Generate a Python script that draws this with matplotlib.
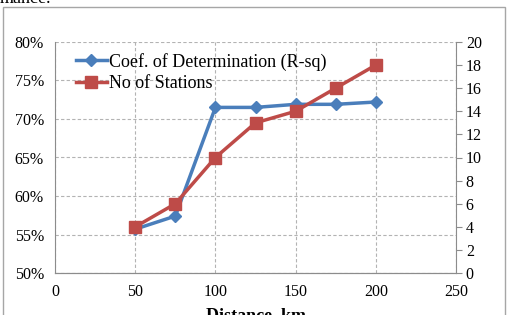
import matplotlib.pyplot as plt
from matplotlib.patches import Rectangle

plt.rcParams['font.family'] = ['Liberation Serif', 'DejaVu Serif']

# data
distance = [50, 75, 100, 125, 150, 175, 200]
r_sq = [0.557, 0.574, 0.715, 0.715, 0.719, 0.719, 0.722]
stations = [4, 6, 10, 13, 14, 16, 18]

blue = '#4a7ebb'
red = '#be4b48'
grid_col = '#b3b3b3'

fig = plt.figure(figsize=(5.09, 3.15), dpi=100)
ax = fig.add_axes([0.108, 0.133, 0.788, 0.734])
ax2 = ax.twinx()

# outer chart border and clipped caption text from the page
fig.patches.append(Rectangle((0.006, -0.1), 0.986, 1.078, transform=fig.transFigure,
                             fill=False, edgecolor='#a6a6a6', lw=1.0))
fig.text(0.0, 1.005, 'mance.', fontsize=13, va='center', ha='left')

l1, = ax.plot(distance, r_sq, color=blue, lw=2.5, marker='D', ms=6.5,
              label='Coef. of Determination (R-sq)')
l2, = ax2.plot(distance, stations, color=red, lw=2.5, marker='s', ms=8,
               label='No of Stations')

ax.set_xlim(0, 250)
ax.set_ylim(0.5, 0.8)
ax2.set_ylim(0, 20)
ax.set_xticks(range(0, 251, 50))
ax.set_yticks([0.5, 0.55, 0.6, 0.65, 0.7, 0.75, 0.8])
ax.set_yticklabels(['50%', '55%', '60%', '65%', '70%', '75%', '80%'])
ax2.set_yticks(range(0, 21, 2))

ax.grid(True, color=grid_col, ls=(0, (3, 2)), lw=0.8)
ax.spines['top'].set_visible(False)
ax2.spines['top'].set_visible(False)
ax.spines['right'].set_visible(False)
for a in (ax, ax2):
    for s in a.spines.values():
        s.set_color('#8c8c8c')
ax2.spines['left'].set_visible(False)
ax.tick_params(axis='both', length=0, labelsize=11.5, pad=8)
ax2.tick_params(axis='y', length=4, color='#8c8c8c', labelsize=11.5, pad=3)

ax.set_xlabel('Distance, km', fontsize=13, fontweight='bold', labelpad=5)

ax2.legend(handles=[l1, l2], loc='upper left', bbox_to_anchor=(0.025, 1.0),
           frameon=False, fontsize=13, handlelength=1.7, borderaxespad=0.2,
           labelspacing=0.25, handletextpad=0.15)

fig.savefig('out.png', dpi=100)
